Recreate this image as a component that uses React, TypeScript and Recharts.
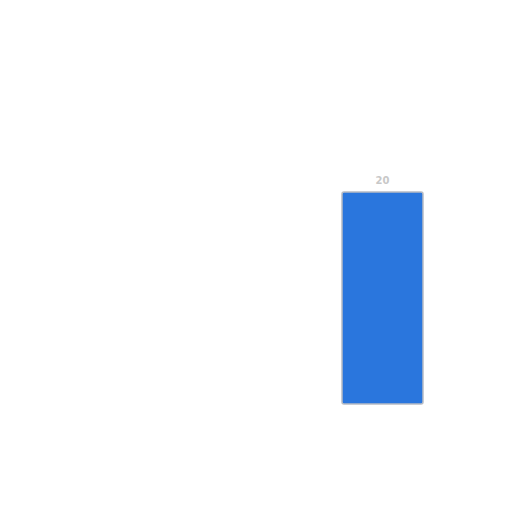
import React from "react";
import { BarChart, Bar, XAxis, YAxis, LabelList } from "recharts";

const categories = ["A", "B", "C"];
const values = [0, 0, 20];

const data = categories.map((c, i) => ({ name: c, value: values[i] }));

export default function App() {
  return (
    <div style={{ width: 512, height: 512, background: "#fff" }}>
      <BarChart
        width={512}
        height={512}
        data={data}
        margin={{ top: 184, right: 78, bottom: 116, left: 74 }}
      >
        <XAxis dataKey="name" hide />
        <YAxis hide domain={[0, 20]} />
        <Bar
          dataKey="value"
          fill="#2a76dd"
          stroke="#b8bcc4"
          strokeWidth={1.5}
          radius={2}
          barSize={81}
          isAnimationActive={false}
        >
          <LabelList
            dataKey="value"
            position="top"
            offset={8}
            formatter={(v: any) => (v ? v : "")}
            style={{ fill: "#c8c8c8", fontSize: 10, fontFamily: "DejaVu Sans", fontWeight: "bold" }}
          />
        </Bar>
      </BarChart>
    </div>
  );
}
